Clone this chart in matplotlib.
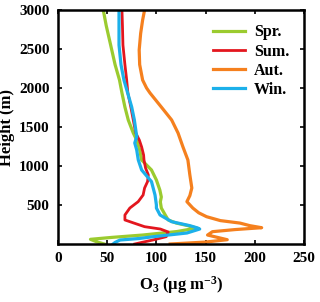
import matplotlib
matplotlib.use("Agg")
import matplotlib.pyplot as plt

plt.rcParams['font.family'] = ['Liberation Serif', 'DejaVu Serif']
plt.rcParams['font.weight'] = 'bold'
plt.rcParams['mathtext.fontset'] = 'custom'
plt.rcParams['mathtext.rm'] = 'Liberation Serif:bold'
plt.rcParams['mathtext.it'] = 'Liberation Serif:bold'
plt.rcParams['mathtext.bf'] = 'Liberation Serif:bold'

# ozone profiles (ug m-3) vs height (m)
spr_h = [0, 25, 60, 85, 115, 160, 205, 235, 269, 308, 372, 461, 540, 603, 692, 820, 949,
         1077, 1205, 1333, 1423, 1590, 1756, 1936, 2102, 2300, 2551, 2800, 3000]
spr_o3 = [47, 40, 33, 55, 86, 121, 141, 132, 120, 112, 109, 105, 104, 105, 103.5, 100, 95,
          85, 83, 80, 76.5, 71.4, 68, 65, 62.5, 58, 53.5, 49, 46]

sum_h = [0, 20, 50, 94, 154, 192, 222, 269, 308, 372, 461, 543, 628, 718, 800, 885, 974,
         1077, 1141, 1244, 1334, 1423, 1590, 1756, 1936, 2102, 2300, 2551, 2800, 3000]
sum_o3 = [78, 85, 96, 110, 112, 104, 88, 77, 68, 68, 73, 81.5, 86.5, 88, 91, 91.8, 89,
          87.4, 87, 85, 82.6, 79, 76.5, 74, 71, 69.8, 68, 66, 65.5, 65]

aut_h = [0, 25, 55, 85, 115, 158, 185, 209, 235, 268, 300, 350, 400, 461, 543, 620, 718,
         885, 1077, 1244, 1423, 1590, 1756, 1936, 2000, 2102, 2300, 2487, 2700, 2871, 3000]
aut_o3 = [114, 150, 172, 162, 152, 157, 180, 207, 195, 185, 165, 151, 143, 137, 131, 134, 136,
          134, 132, 127, 122, 115.5, 105, 93.5, 90, 86, 83, 82.5, 84, 86, 88]

win_h = [0, 20, 51, 70, 94, 141, 192, 205, 235, 286, 372, 461, 500, 628, 800, 949, 1077,
         1205, 1295, 1376, 1590, 1756, 1936, 2102, 2300, 2551, 2800, 3000]
win_o3 = [56, 58, 63, 82, 97, 131, 144, 142, 134, 115.5, 103.7, 100, 100, 98.6, 95, 85, 81.6,
          80, 78, 80, 77.6, 74.9, 70.8, 67, 64, 62, 62, 62]

labels = ['Spr.', 'Sum.', 'Aut.', 'Win.']
colors = ['#9BCB2F', '#E3161E', '#F5801E', '#1CB0EA']

fig = plt.figure(figsize=(3.2, 3.02), dpi=100)
ax = fig.add_axes([58 / 320, 58 / 302, 246 / 320, 234 / 302])

ax.plot(spr_o3, spr_h, color=colors[0], lw=2.3, label=labels[0])
ax.plot(sum_o3, sum_h, color=colors[1], lw=2.0, label=labels[1])
ax.plot(aut_o3, aut_h, color=colors[2], lw=2.3, label=labels[2])
ax.plot(win_o3, win_h, color=colors[3], lw=2.3, label=labels[3])

ax.set_xlim(0, 250)
ax.set_ylim(0, 3000)
ax.set_xticks([0, 50, 100, 150, 200, 250])
ax.set_yticks([500, 1000, 1500, 2000, 2500, 3000])
ax.tick_params(direction='in', top=True, right=True, length=3, width=1.2,
               labelsize=11, pad=6)
for s in ax.spines.values():
    s.set_linewidth(1.8)

ax.set_xlabel(r'O$_3$ ($\mu$g m$^{-3}$)', fontsize=12, fontweight='bold', labelpad=6)
ax.set_ylabel('Height (m)', fontsize=12, fontweight='bold', labelpad=3)

leg = ax.legend(loc='upper right', frameon=False, fontsize=11.5, handlelength=2.0,
                handletextpad=0.6, labelspacing=0.2, borderaxespad=0.5)

fig.savefig('out.png', dpi=100)
